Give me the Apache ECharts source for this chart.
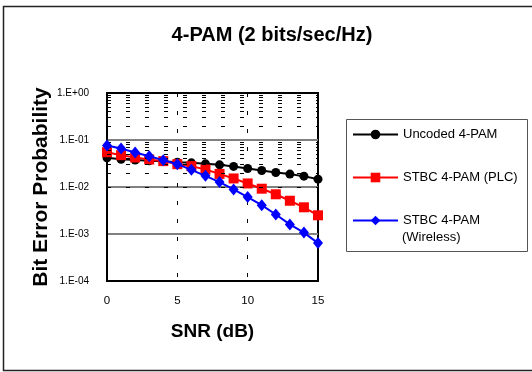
<!DOCTYPE html>
<html>
<head>
<meta charset="utf-8">
<script src="https://cdn.jsdelivr.net/npm/echarts@6/dist/echarts.min.js"></script>
<style>html,body{margin:0;padding:0;background:#fff}#c{width:532px;height:372px}</style>
</head>
<body>
<div id="c"></div>
<script>
var snr = [0,1,2,3,4,5,6,7,8,9,10,11,12,13,14,15];
var uncoded = [0.0417,0.0388,0.0375,0.0362,0.0355,0.0338,0.0327,0.0311,0.0296,0.0274,0.0248,0.0225,0.0204,0.0188,0.0170,0.0147];
var stbcPLC = [0.0550,0.0475,0.0425,0.0385,0.0355,0.0306,0.0278,0.0236,0.0190,0.0152,0.0119,0.0092,0.0070,0.0051,0.0037,0.0025];
var stbcWireless = [0.0764,0.0660,0.0543,0.0453,0.0373,0.0306,0.0232,0.0173,0.0127,0.0089,0.0061,0.0041,0.0026,0.0016,0.00107,0.00064];
var minorLevels = [];
[1e-4,1e-3,1e-2,1e-1].forEach(function(d){ for (var k=2;k<=9;k++) minorLevels.push(+(d*k).toPrecision(3)); });
var names = ['Uncoded 4-PAM','STBC 4-PAM (PLC)','STBC 4-PAM (Wireless)'];

function pairs(arr){ return snr.map(function(x,i){ return [x, arr[i]]; }); }
var FONT = 'Liberation Sans, Arial, sans-serif';

var chart = echarts.init(document.getElementById('c'), null, {renderer:'canvas'});
chart.setOption({
  backgroundColor:'#fff',
  animation:false,
  title:{text:'4-PAM (2 bits/sec/Hz)', left:267, top:20, textAlign:'center',
    textStyle:{fontFamily:FONT, fontSize:20, fontWeight:'bold', color:'#000'}},
  grid:{left:107, right:214, top:93, bottom:91, show:true, borderColor:'#000', borderWidth:2, backgroundColor:'#fff'},
  xAxis:{type:'value', min:0, max:15, interval:5,
    name:'SNR (dB)', nameLocation:'middle', nameGap:41,
    nameTextStyle:{fontFamily:FONT, fontSize:19, fontWeight:'bold', color:'#000'},
    axisLine:{lineStyle:{color:'#000', width:2}}, axisTick:{show:false},
    axisLabel:{fontFamily:FONT, fontSize:11.5, color:'#000', margin:14},
    splitLine:{show:true, showMinLine:false, showMaxLine:false, lineStyle:{color:'#000', width:1, type:[4,14]}}},
  yAxis:{type:'log', logBase:10, min:1e-4, max:1,
    name:'Bit Error Probability', nameLocation:'middle', nameGap:55,
    nameTextStyle:{fontFamily:FONT, fontSize:21, fontWeight:'bold', color:'#000'},
    axisLine:{lineStyle:{color:'#000', width:2}}, axisTick:{show:false},
    axisLabel:{fontFamily:FONT, fontSize:10, color:'#000', margin:18,
      formatter:function(v){ var e=Math.round(Math.log10(v)); return '1.E'+(e<0?'-':'+')+(Math.abs(e)<10?'0':'')+Math.abs(e); }},
    splitLine:{show:true, showMinLine:false, showMaxLine:false, lineStyle:{color:'#808080', width:2}}},
  legend:{data:names, orient:'vertical', left:352, top:128, padding:0, itemWidth:45, itemHeight:12, itemGap:30,
    textStyle:{fontFamily:FONT, fontSize:13, color:'#000'},
    formatter:function(n){ return n==='STBC 4-PAM (Wireless)' ? 'STBC 4-PAM' : n; }},
  graphic:[
    {type:'rect', shape:{x:3.5, y:6.5, width:540, height:364}, style:{fill:'none', stroke:'#222', lineWidth:1.5}, z:-10, silent:true},
    {type:'rect', shape:{x:346.5, y:119.5, width:181, height:132}, style:{fill:'none', stroke:'#555', lineWidth:1}, silent:true},
    {type:'text', left:402, top:231, style:{text:'(Wireless)', font:'13px '+FONT, fill:'#000'}, silent:true}
  ],
  series:[
    {name:'minor', type:'line', data:[], silent:true, z:1,
      markLine:{silent:true, symbol:['none','none'], label:{show:false}, animation:false,
        lineStyle:{color:'#000', width:1, type:[4,15]},
        data:minorLevels.map(function(v){ return {yAxis:v}; })}},
    {name:names[0], type:'line', data:pairs(uncoded), symbol:'circle', symbolSize:9,
      lineStyle:{color:'#000', width:2}, itemStyle:{color:'#000'}, z:3},
    {name:names[1], type:'line', data:pairs(stbcPLC), symbol:'rect', symbolSize:10,
      lineStyle:{color:'#ff0000', width:2}, itemStyle:{color:'#ff0000'}, z:4},
    {name:names[2], type:'line', data:pairs(stbcWireless), symbol:'diamond', symbolSize:[10,12],
      lineStyle:{color:'#0000ff', width:2}, itemStyle:{color:'#0000ff'}, z:5}
  ]
});
</script>
</body>
</html>
